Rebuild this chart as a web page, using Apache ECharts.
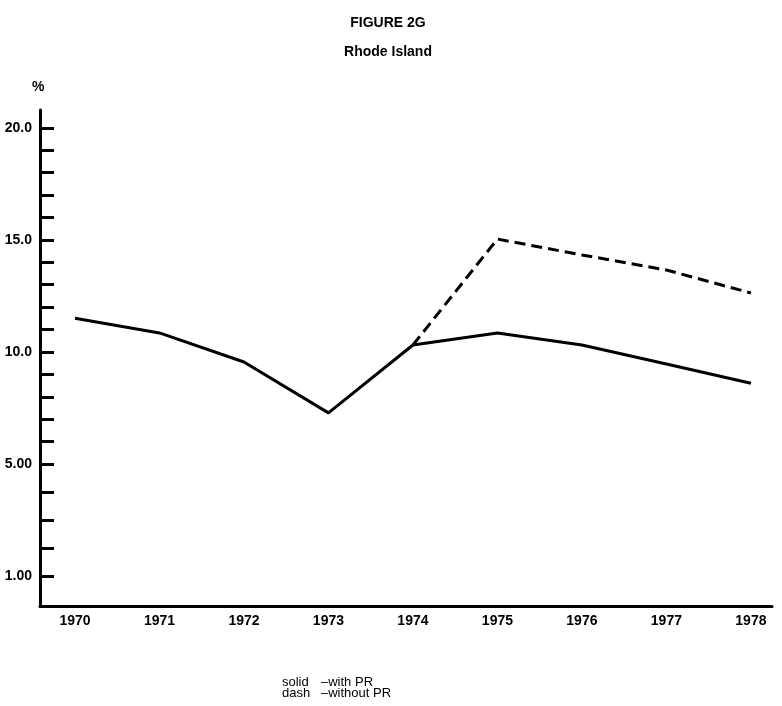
<!DOCTYPE html>
<html>
<head>
<meta charset="utf-8">
<script src="https://cdn.jsdelivr.net/npm/echarts@6/dist/echarts.min.js"></script>
<style>
html,body{margin:0;padding:0;background:#fff;}
#c{width:782px;height:706px;}
</style>
</head>
<body>
<div id="c"></div>
<script>
const years = [1970, 1971, 1972, 1973, 1974, 1975, 1976, 1977, 1978];
const withPR = [11.5, 10.85, 9.55, 7.28, 10.31, 10.85, 10.31, 9.46, 8.6];
const withoutPR = [null, null, null, null, 10.31, 15.04, 14.33, 13.66, 12.63];
const yLabelValues = [0, 5, 10, 15, 20];
const yTickLabels = ['1.00', '5.00', '10.0', '15.0', '20.0'];
const yTickValues = [0, 1.25, 2.5, 3.75, 5, 6, 7, 8, 9, 10, 11, 12, 13, 14, 15, 16, 17, 18, 19, 20];

const FONT = '"Liberation Sans", Arial, Helvetica, sans-serif';
const chart = echarts.init(document.getElementById('c'), null, {renderer: 'canvas'});

const toPairs = arr => years.map((y, i) => [y, arr[i]]);

chart.setOption({
  backgroundColor: '#ffffff',
  animation: false,
  grid: {left: 40, right: 10, top: 110, bottom: 100, containLabel: false, outerBoundsMode: 'none'},
  xAxis: {
    type: 'value',
    min: 1969.586,
    max: 1978.25,
    axisLine: {show: true, onZero: false, lineStyle: {color: '#000', width: 3}},
    axisTick: {show: false},
    splitLine: {show: false},
    axisLabel: {
      customValues: years,
      margin: 8,
      fontFamily: FONT, fontWeight: 'bold', fontSize: 14, color: '#000',
      formatter: v => String(Math.round(v))
    }
  },
  yAxis: {
    type: 'value',
    min: -1.34,
    max: 20.8,
    axisLine: {show: true, onZero: false, lineStyle: {color: '#000', width: 3}},
    axisTick: {show: true, inside: true, length: 14, customValues: yTickValues,
               lineStyle: {color: '#000', width: 3}},
    splitLine: {show: false},
    axisLabel: {
      customValues: yLabelValues,
      margin: 8,
      fontFamily: FONT, fontWeight: 'bold', fontSize: 14, color: '#000',
      formatter: v => {
        const i = yLabelValues.findIndex(x => Math.abs(x - v) < 1e-6);
        return i >= 0 ? yTickLabels[i] : '';
      }
    }
  },
  series: [
    {
      name: 'with PR', type: 'line', data: toPairs(withPR), symbol: 'none',
      lineStyle: {color: '#000', width: 3, type: 'solid'}, z: 3
    },
    {
      name: 'without PR', type: 'line', data: toPairs(withoutPR), symbol: 'none',
      connectNulls: false,
      lineStyle: {color: '#000', width: 3, type: [11, 6]}, z: 2
    }
  ],
  graphic: [
    {type: 'text', x: 388, y: 23,
     style: {text: 'FIGURE 2G', fontFamily: FONT, fontWeight: 'bold', fontSize: 14, fill: '#000',
             align: 'center', verticalAlign: 'middle'}},
    {type: 'text', x: 388, y: 52,
     style: {text: 'Rhode Island', fontFamily: FONT, fontWeight: 'bold', fontSize: 14, fill: '#000',
             align: 'center', verticalAlign: 'middle'}},
    {type: 'text', x: 32, y: 87,
     style: {text: '%', fontFamily: FONT, fontWeight: 'bold', fontSize: 14, fill: '#000',
             align: 'left', verticalAlign: 'middle'}},
    {type: 'text', x: 282, y: 682,
     style: {text: 'solid', fontFamily: FONT, fontSize: 13, fill: '#000', verticalAlign: 'middle'}},
    {type: 'text', x: 321, y: 682,
     style: {text: '\u2013with PR', fontFamily: FONT, fontSize: 13, fill: '#000', verticalAlign: 'middle'}},
    {type: 'text', x: 282, y: 693,
     style: {text: 'dash', fontFamily: FONT, fontSize: 13, fill: '#000', verticalAlign: 'middle'}},
    {type: 'text', x: 321, y: 693,
     style: {text: '\u2013without PR', fontFamily: FONT, fontSize: 13, fill: '#000', verticalAlign: 'middle'}}
  ]
});
</script>
</body>
</html>
